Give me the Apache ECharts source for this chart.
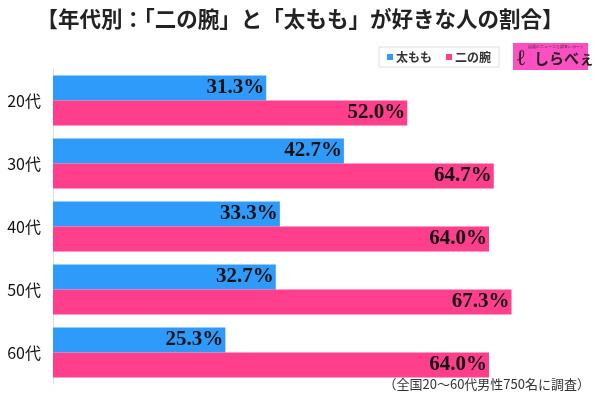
<!DOCTYPE html>
<html><head><meta charset="utf-8">
<script src="https://cdn.jsdelivr.net/npm/echarts@6/dist/echarts.min.js"></script>
<style>html,body{margin:0;padding:0;background:#fff}#c{width:600px;height:400px}</style>
</head><body><div id="c"></div>
<script>
const categories = ['20代','30代','40代','50代','60代'];
const thighs = [31.3, 42.7, 33.3, 32.7, 25.3];
const upperArms = [52.0, 64.7, 64.0, 67.3, 64.0];
const seriesNames = ['太もも','二の腕'];
const titleText = '【年代別：「二の腕」と「太もも」が好きな人の割合】';
const noteText = '（全国20～60代男性750名に調査）';

const chart = echarts.init(document.getElementById('c'));
const lbl = {
  show: true, position: 'insideRight', distance: 2,
  formatter: p => p.value.toFixed(1) + '%',
  color: '#111', fontFamily: 'Liberation Serif, serif', fontWeight: 'bold', fontSize: 21
};
chart.setOption({
  animation: false,
  title: {text: titleText, left: 'center', top: 3,
    textStyle: {fontFamily: 'Noto Sans CJK JP', fontWeight: 'bold', fontSize: 21.5, color: '#222'}},
  legend: {data: seriesNames, left: 379, top: 47, itemWidth: 6, itemHeight: 6, itemGap: 14,
    icon: 'rect', borderColor: '#ddd', borderWidth: 1, padding: [4, 8, 4, 8],
    textStyle: {fontFamily: 'Noto Sans CJK JP', fontWeight: 'bold', fontSize: 12, color: '#333', padding: [0,0,0,-2]}},
  grid: {left: 53, top: 69, width: 545, height: 315},
  xAxis: {type: 'value', min: 0, max: 80, show: false},
  yAxis: {type: 'category', data: categories, inverse: true,
    axisLine: {lineStyle: {color: '#ddd'}}, axisTick: {show: false},
    axisLabel: {color: '#111', fontSize: 16, fontFamily: 'Noto Sans CJK JP', margin: 12}},
  series: [
    {name: seriesNames[0], type: 'bar', data: thighs, barCategoryGap: '21%', barGap: '0%',
      itemStyle: {color: '#2E9BFA'}, label: lbl},
    {name: seriesNames[1], type: 'bar', data: upperArms, barGap: '0%',
      itemStyle: {color: '#FF3F8C'}, label: lbl}
  ],
  graphic: [
    {type: 'rect', left: 513, top: 43, shape: {width: 75, height: 27}, style: {fill: '#FF4FC3'}},
    {type: 'text', left: 528, top: 45, style: {text: '話題のニュースを調査レポート', fontSize: 4, fill: '#333'}},
    {type: 'text', left: 517, top: 48, style: {text: 'ℓ', fontSize: 22, fontWeight: 'bold', fill: '#222', fontFamily: 'DejaVu Serif'}},
    {type: 'text', left: 534, top: 51, style: {text: 'しらべぇ', fontSize: 15, fontWeight: 'bold', fill: '#222', fontFamily: 'Noto Sans CJK JP'}},
    {type: 'text', right: 10, top: 378, style: {text: noteText, fontSize: 13, fill: '#333', fontFamily: 'Noto Sans CJK JP'}}
  ]
});
</script></body></html>
